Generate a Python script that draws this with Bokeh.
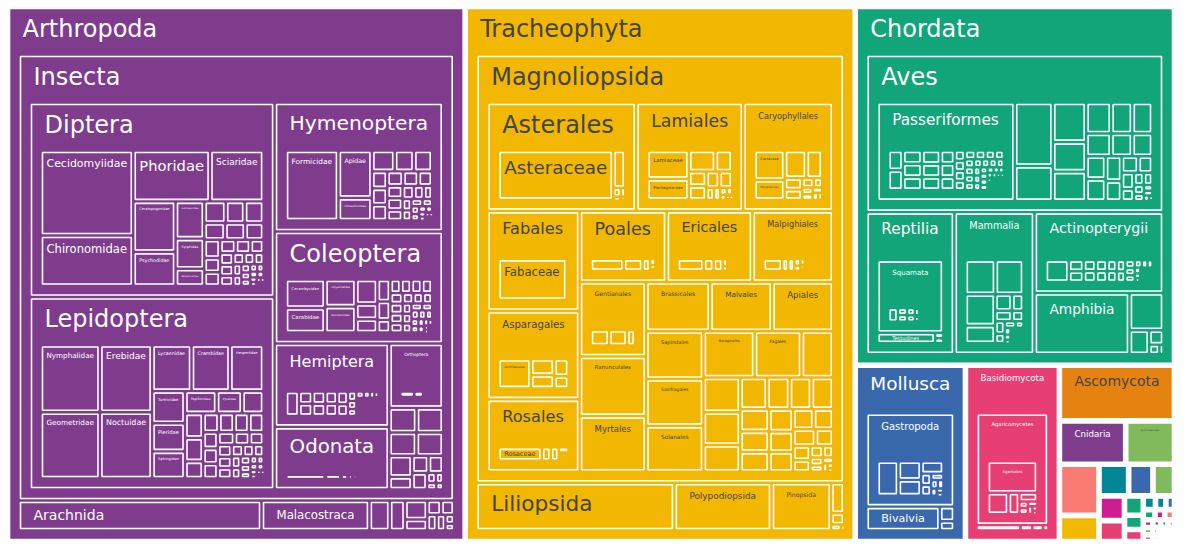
from bokeh.plotting import figure
from bokeh.models import ColumnDataSource, Range1d
from bokeh.embed import file_html
from bokeh.resources import INLINE
from bokeh.core.properties import value, field

# ---------------- data (relative sizes) ----------------
PHYLA = ["Arthropoda", "Tracheophyta", "Chordata", "Mollusca", "Basidiomycota",
         "Ascomycota", "Cnidaria", "Echinodermata"]
PHYLA_VALUES = [248400, 211700, 116200, 19700, 16800, 6490, 2920, 2150]
PHYLA_COLORS = ["#7F3C8D", "#F2B701", "#11A579", "#3969AC", "#E73F74",
                "#E68310", "#7F3C8D", "#80BA5A"]
MINOR_PHYLA_VALUES = [2050, 1050, 950, 780, 690, 640, 540, 370, 270, 230, 170, 145,
                      120, 120, 100, 100, 75, 70, 65, 60, 55, 50, 45, 40, 35, 30,
                      28, 25, 22, 20, 18, 15, 12, 10, 8, 6]
MINOR_PHYLA_COLORS = ["#f97b72", "#F2B701", "#008695", "#3969AC", "#80BA5A", "#CF1C90",
                      "#E73F74", "#11A579", "#11A579", "#E73F74", "#008695", "#008695",
                      "#3969AC", "#11A579", "#CF1C90", "#f97b72", "#7F3C8D", "#80BA5A",
                      "#E73F74", "#7F3C8D", "#3969AC", "#E68310", "#4b4b8f", "#A5AA99",
                      "#7F3C8D", "#11A579", "#3969AC", "#F2B701", "#E73F74", "#80BA5A",
                      "#E68310", "#008695", "#CF1C90", "#f97b72", "#4b4b8f", "#A5AA99"]

ARTHROPODA = [("Insecta", 197100), ("Arachnida", 7410), ("Malacostraca", 3290)]
ARTHROPODA_MINOR = [620, 465, 430, 250, 200, 190, 150, 140, 80, 60]

INSECTA = [("Diptera", 48200), ("Lepidoptera", 47700), ("Hymenoptera", 22000),
           ("Coleoptera", 19100), ("Hemiptera", 9660), ("Odonata", 7250),
           ("Orthoptera", 3510)]
INSECTA_MINOR = [680, 660, 640, 630, 490, 290, 285, 255, 250, 90, 75, 60, 45]

DIPTERA = [("Cecidomyiidae", 7650), ("Chironomidae", 4540), ("Phoridae", 3790),
           ("Sciaridae", 2640), ("Ceratopogonidae", 2070), ("Psychodidae", 1400),
           ("Dolichopodidae", 1040), ("Syrphidae", 840), ("Sphaeroceridae", 480)]
DIPTERA_MINOR = [450, 396, 396, 340, 330, 300, 280, 220, 210, 200, 190, 170, 150, 140,
                 130, 120, 110, 100, 90, 80, 70, 60, 55, 50, 45, 40, 35, 30, 25, 20,
                 15, 12, 10]

LEPIDOPTERA = [("Nymphalidae", 3876), ("Geometridae", 3819), ("Erebidae", 3400),
               ("Noctuidae", 3350), ("Lycaenidae", 1763), ("Crambidae", 1720),
               ("Hesperiidae", 1505), ("Tortricidae", 1024), ("Pieridae", 896),
               ("Sphingidae", 864), ("Papilionidae", 682), ("Pyralidae", 550)]
LEPIDOPTERA_MINOR = [462, 432, 414, 300, 290, 280, 270, 270, 230, 220, 210, 200, 180,
                     170, 160, 150, 140, 130, 120, 110, 100, 90, 80, 70, 60, 50, 45,
                     40, 35, 30, 25, 20, 15, 12, 10]

HYMENOPTERA = [("Formicidae", 3692), ("Apidae", 1584), ("Ichneumonidae", 759)]
HYMENOPTERA_MINOR = [475, 400, 380, 260, 250, 240, 230, 220, 200, 190, 180, 160, 150,
                     130, 110, 100, 90, 80, 70, 60, 50, 40, 35, 30, 25, 20, 15, 12, 10]

COLEOPTERA = [("Cerambycidae", 1131), ("Carabidae", 975), ("Chrysomelidae", 837),
              ("Curculionidae", 800)]
COLEOPTERA_MINOR = [528, 330, 286, 285, 240, 165, 143, 143, 143, 143, 130, 125, 120,
                    115, 110, 100, 95, 90, 85, 80, 75, 70, 65, 60, 55, 50, 45, 40, 35,
                    30, 25, 20, 15, 12, 10]

HEMIPTERA_MINOR = [336, 170, 168, 165, 160, 150, 148, 140, 130, 80, 70, 60, 50, 40,
                   30, 25, 20, 15, 10]
ODONATA_MINOR = [132, 52, 24, 16, 14]
ORTHOPTERA_MINOR = [78, 50]

TRACHEOPHYTA = [("Magnoliopsida", 159840), ("Liliopsida", 9604),
                ("Polypodiopsida", 4704), ("Pinopsida", 2891)]
TRACHEOPHYTA_MINOR = [405, 150, 60, 20]

MAGNOLIOPSIDA = [("Asterales", 16390), ("Lamiales", 11770), ("Caryophyllales", 9900),
                 ("Fabales", 9393), ("Asparagales", 8277), ("Rosales", 6789),
                 ("Poales", 6264), ("Ericales", 6192), ("Malpighiales", 5832),
                 ("Gentianales", 5025), ("Ranunculales", 4020), ("Myrtales", 3752),
                 ("Brassicales", 3200), ("Malvales", 3100), ("Apiales", 3050),
                 ("Sapindales", 2784), ("Saxifragales", 2726), ("Solanales", 2668),
                 ("Boraginales", 2400), ("Fagales", 2200)]
MAGNOLIOPSIDA_MINOR = [1490, 1300, 1220, 1000, 864, 720, 700, 700, 650, 600, 580, 550,
                       500, 480, 420, 400, 380, 300, 250, 200, 150, 120, 100, 80, 60,
                       40, 30, 20]

ASTERALES = [("Asteraceae", 5980)]
ASTERALES_MINOR = [470, 72, 40, 25, 15]
LAMIALES = [("Lamiaceae", 1250), ("Plantaginaceae", 930)]
LAMIALES_MINOR = [594, 374, 272, 255, 224, 221, 100, 80, 50, 40, 30, 20, 15]
CARYOPHYLLALES = [("Cactaceae", 899), ("Polygonaceae", 609)]
CARYOPHYLLALES_MINOR = [600, 440, 200, 180, 110, 80, 70, 60, 50, 40, 30]
FABALES = [("Fabaceae", 2856)]
FABALES_MINOR = [60, 20]
ASPARAGALES = [("Orchidaceae", 990)]
ASPARAGALES_MINOR = [390, 320, 255, 180]
ROSALES = [("Rosaceae", 572)]
ROSALES_MINOR = [117, 104, 50, 20]
POALES_MINOR = [360, 204, 80, 30, 20, 10]
ERICALES_MINOR = [288, 108, 100, 30, 20, 15, 10]
MALPIGHIALES_MINOR = [216, 70, 68, 40, 30, 25, 15, 10]
GENTIANALES_MINOR = [275, 265, 120]

CHORDATA = [("Aves", 47400), ("Reptilia", 12670), ("Mammalia", 11520),
            ("Actinopterygii", 10560), ("Amphibia", 5890)]
CHORDATA_MINOR = [1280, 480, 210, 100, 40]
AVES = [("Passeriformes", 13662)]
AVES_MINOR = [2430, 1350, 1330, 990, 990, 780, 660, 630, 570, 484, 462, 450, 432, 400,
              320, 280, 238, 204, 150, 120, 108, 90, 70, 50, 40, 30, 20]
PASSERIFORMES_MINOR = [300, 300, 260, 260, 255, 255, 250, 250, 195, 195, 190, 110, 108,
                       105, 100, 95, 90, 85, 80, 75, 72, 70, 68, 65, 62, 60, 58, 55, 50,
                       48, 45, 42, 40, 38, 35, 30, 28, 25, 22, 20, 18, 15, 12, 10]
REPTILIA = [("Squamata", 4680), ("Testudines", 594)]
REPTILIA_MINOR = [45, 40]
SQUAMATA_MINOR = [130, 63, 60, 55, 50, 20, 15]
MAMMALIA_MINOR = [1020, 952, 930, 522, 272, 187, 176, 121, 117, 90, 70, 50, 40, 30, 20]
ACTINOPTERYGII_MINOR = [480, 155, 150, 126, 124, 117, 115, 100, 98, 90, 85, 70, 65, 60,
                        50, 40, 35, 30, 25, 20, 15]

MOLLUSCA = [("Gastropoda", 8272), ("Bivalvia", 1768)]
MOLLUSCA_MINOR = [216, 135]
GASTROPODA_MINOR = [756, 440, 374, 288, 120, 110, 80, 60, 50, 40, 30, 20]
BASIDIOMYCOTA = [("Agaricomycetes", 8352)]
BASIDIOMYCOTA_MINOR = [246, 66, 60, 30]
AGARICOMYCETES = [("Agaricales", 1363)]
AGARICOMYCETES_MINOR = [390, 204, 136, 48, 45, 40, 30, 20, 15]

# value of a group not assigned to any shown child (left empty, as in the picture)
OWN = {"Hemiptera": 360, "Odonata": 70, "Orthoptera": 50, "Squamata": 200,
       "Ericales": 130, "Malpighiales": 200, "Rosales": 60, "Passeriformes": 170,
       "Mammalia": 200, "Actinopterygii": 150}

GROUPS = {
    "Arthropoda": (ARTHROPODA, ARTHROPODA_MINOR),
    "Insecta": (INSECTA, INSECTA_MINOR),
    "Diptera": (DIPTERA, DIPTERA_MINOR),
    "Lepidoptera": (LEPIDOPTERA, LEPIDOPTERA_MINOR),
    "Hymenoptera": (HYMENOPTERA, HYMENOPTERA_MINOR),
    "Coleoptera": (COLEOPTERA, COLEOPTERA_MINOR),
    "Hemiptera": ([], HEMIPTERA_MINOR),
    "Odonata": ([], ODONATA_MINOR),
    "Orthoptera": ([], ORTHOPTERA_MINOR),
    "Tracheophyta": (TRACHEOPHYTA, TRACHEOPHYTA_MINOR),
    "Magnoliopsida": (MAGNOLIOPSIDA, MAGNOLIOPSIDA_MINOR),
    "Asterales": (ASTERALES, ASTERALES_MINOR),
    "Lamiales": (LAMIALES, LAMIALES_MINOR),
    "Caryophyllales": (CARYOPHYLLALES, CARYOPHYLLALES_MINOR),
    "Fabales": (FABALES, FABALES_MINOR),
    "Asparagales": (ASPARAGALES, ASPARAGALES_MINOR),
    "Rosales": (ROSALES, ROSALES_MINOR),
    "Poales": ([], POALES_MINOR),
    "Ericales": ([], ERICALES_MINOR),
    "Malpighiales": ([], MALPIGHIALES_MINOR),
    "Gentianales": ([], GENTIANALES_MINOR),
    "Chordata": (CHORDATA, CHORDATA_MINOR),
    "Aves": (AVES, AVES_MINOR),
    "Passeriformes": ([], PASSERIFORMES_MINOR),
    "Reptilia": (REPTILIA, REPTILIA_MINOR),
    "Squamata": ([], SQUAMATA_MINOR),
    "Mammalia": ([], MAMMALIA_MINOR),
    "Actinopterygii": ([], ACTINOPTERYGII_MINOR),
    "Mollusca": (MOLLUSCA, MOLLUSCA_MINOR),
    "Gastropoda": ([], GASTROPODA_MINOR),
    "Basidiomycota": (BASIDIOMYCOTA, BASIDIOMYCOTA_MINOR),
    "Agaricomycetes": (AGARICOMYCETES, AGARICOMYCETES_MINOR),
}

# ---------------- layout helpers ----------------
W, H = 1172, 539
GAP = 2.0                      # half of the gap between sibling tiles
PAD_L, PAD_R, PAD_T, PAD_B = 9.0, 9.0, 46.0, 9.0
MAX_DEPTH = 4
AREA = (7, 6, 1174, 541)       # outer tiling area in screen pixels

_U = "ABCDEFGHIJKLMNOPQRSTUVWXYZ"
_UW = [.684, .686, .698, .770, .632, .575, .775, .752, .295, .295, .656, .557, .863,
       .748, .787, .603, .787, .695, .635, .611, .732, .684, .989, .685, .611, .685]
_L = "abcdefghijklmnopqrstuvwxyz"
_LW = [.613, .635, .550, .635, .615, .352, .635, .634, .278, .278, .579, .278, .974,
       .634, .612, .635, .635, .411, .521, .392, .634, .592, .818, .592, .592, .525]
CHAR_W = dict(zip(_U, _UW))
CHAR_W.update(zip(_L, _LW))


def em_width(s):
    return sum(CHAR_W.get(ch, 0.6) for ch in s)


def text_color(hexc):
    r, g, b = int(hexc[1:3], 16), int(hexc[3:5], 16), int(hexc[5:7], 16)
    return "#444444" if (r * 299 + g * 587 + b * 114) / 1000 > 128 else "#ffffff"


def squarify(items, total, x0, y0, x1, y1):
    out = []
    n, i0, val = len(items), 0, float(total)
    while i0 < n and val > 0:
        dx, dy = x1 - x0, y1 - y0
        if dx <= 0 or dy <= 0:
            break
        i1 = i0
        s = items[i1][1]
        i1 += 1
        mn = mx = s
        alpha = max(dy / dx, dx / dy) / val
        beta = s * s * alpha
        best = max(mx / beta, beta / mn)
        while i1 < n:
            v = items[i1][1]
            s2 = s + v
            mn2, mx2 = min(mn, v), max(mx, v)
            beta = s2 * s2 * alpha
            ratio = max(mx2 / beta, beta / mn2)
            if ratio > best:
                break
            s, mn, mx, best = s2, mn2, mx2, ratio
            i1 += 1
        row = items[i0:i1]
        if dx < dy:
            yb = y0 + dy * s / val
            xx = x0
            for it in row:
                w = (x1 - x0) * it[1] / s
                out.append((it, xx, y0, xx + w, yb))
                xx += w
            y0 = yb
        else:
            xb = x0 + dx * s / val
            yy = y0
            for it in row:
                h = (y1 - y0) * it[1] / s
                out.append((it, x0, yy, xb, yy + h))
                yy += h
            x0 = xb
        val -= s
        i0 = i1
    return out


rects = dict(left=[], right=[], top=[], bottom=[], color=[])
labels = dict(x=[], y=[], text=[], fs=[], color=[])


def place(name, depth, color, x0, y0, x1, y1):
    if x1 - x0 < 2.6 or y1 - y0 < 2.6:
        return
    l, t = x0 + GAP, y0 + GAP
    r, b = max(x1 - GAP, l), max(y1 - GAP, t)
    rects["left"].append(l)
    rects["right"].append(r)
    rects["top"].append(t)
    rects["bottom"].append(b)
    rects["color"].append(color)
    w, h = r - l, b - t
    if name:
        if depth < MAX_DEPTH:
            fs = min(24.0, (w - 26) / em_width(name), 0.43 * h + 2.8)
            x, dy_top = l + 13, 6
        else:
            fs = min(24.0, (w - 8) / em_width(name), 0.8 * h)
            x, dy_top = l + 4, 4
        if fs >= 2.0:
            if h < fs * 1.2 + 10:
                y = t + max(0.0, (h - fs * 1.15) / 2)
            else:
                y = t + dy_top
            labels["x"].append(x)
            labels["y"].append(y)
            labels["text"].append(name)
            labels["fs"].append("%.2fpx" % fs)
            labels["color"].append(text_color(color))
    grp = GROUPS.get(name)
    if grp and depth < MAX_DEPTH:
        ix0, iy0, ix1, iy1 = l + PAD_L, t + PAD_T, r - PAD_R, b - PAD_B
        if ix1 - ix0 >= 3 and iy1 - iy0 >= 3:
            named, minor = grp
            items = list(named) + [("", v) for v in minor]
            items.sort(key=lambda it: -it[1])
            total = sum(it[1] for it in items) + OWN.get(name, 0)
            for it, a, bb, c, d in squarify(items, total, ix0, iy0, ix1, iy1):
                place(it[0], depth + 1, color, a, bb, c, d)


root = [(n, v, c) for n, v, c in zip(PHYLA, PHYLA_VALUES, PHYLA_COLORS)]
root += [("", v, c) for v, c in zip(MINOR_PHYLA_VALUES, MINOR_PHYLA_COLORS)]
root.sort(key=lambda it: -it[1])
for it, a, b, c, d in squarify(root, sum(it[1] for it in root), *AREA):
    place(it[0], 1, it[2], a, b, c, d)

# ---------------- figure ----------------
p = figure(width=W, height=H, x_range=Range1d(0, W), y_range=Range1d(H, 0),
           output_backend="svg", toolbar_location=None, min_border=0,
           background_fill_color="white", border_fill_color="white")
p.axis.visible = False
p.grid.visible = False
p.outline_line_color = None

p.quad(left="left", right="right", top="top", bottom="bottom",
       source=ColumnDataSource(rects), fill_color=field("color"),
       line_color="white", line_width=1.6)

p.text(x="x", y="y", text="text", source=ColumnDataSource(labels),
       text_font=value("DejaVu Sans"), text_font_size=field("fs"),
       text_color=field("color"), text_align="left", text_baseline="top")

open("out.html", "w").write(file_html(p, INLINE))
